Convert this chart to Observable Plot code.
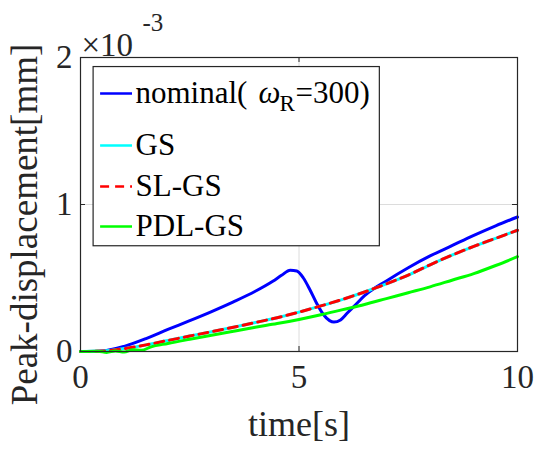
<!DOCTYPE html>
<html>
<head>
<meta charset="utf-8">
<script src="https://cdn.jsdelivr.net/npm/d3@7"></script>
<script src="https://cdn.jsdelivr.net/npm/@observablehq/plot@0.6"></script>
<style>
  html, body { margin: 0; padding: 0; background: white; }
</style>
</head>
<body>
<div id="chart"></div>
<script>
// values in units of 1e-3 mm
const tNominal = [0, 0.5, 1, 1.5, 2, 2.5, 3, 3.5, 4, 4.4, 4.6, 4.8, 4.95, 5.1, 5.25, 5.4, 5.55, 5.7, 5.8, 5.95, 6.1, 6.3, 6.5, 7, 7.5, 8, 8.5, 9, 9.5, 10];
const vNominal = [0, 0.004, 0.035, 0.088, 0.15, 0.21, 0.272, 0.338, 0.41, 0.478, 0.518, 0.553, 0.548, 0.5, 0.42, 0.33, 0.255, 0.21, 0.2, 0.215, 0.26, 0.32, 0.38, 0.48, 0.57, 0.65, 0.72, 0.79, 0.855, 0.915];

const tGS = [0, 0.5, 1, 1.5, 2, 2.5, 3, 3.5, 4, 4.5, 5, 5.5, 6, 6.5, 7, 7.5, 8, 8.5, 9, 9.5, 10];
const vGS = [0, 0.003, 0.02, 0.045, 0.075, 0.105, 0.135, 0.165, 0.197, 0.23, 0.268, 0.31, 0.355, 0.405, 0.46, 0.52, 0.59, 0.655, 0.715, 0.77, 0.825];
const vSLGS = [0, 0.003, 0.02, 0.045, 0.075, 0.105, 0.135, 0.165, 0.197, 0.23, 0.268, 0.31, 0.355, 0.405, 0.46, 0.52, 0.59, 0.655, 0.715, 0.77, 0.825];

const tPDL = [0, 0.4, 0.6, 0.8, 1.0, 1.2, 1.4, 1.6, 2, 2.5, 3, 3.5, 4, 4.5, 5, 5.5, 6, 6.5, 7, 7.5, 8, 8.5, 9, 9.5, 10];
const vPDL = [0, 0.002, -0.006, 0.004, -0.004, 0.012, 0.008, 0.03, 0.055, 0.083, 0.11, 0.138, 0.165, 0.19, 0.218, 0.25, 0.285, 0.32, 0.36, 0.4, 0.44, 0.485, 0.53, 0.585, 0.645];

const seriesNames = ["nominal", "GS", "SL-GS", "PDL-GS"];
const seriesColors = ["#0000ff", "#00ffff", "#ff0000", "#00ff00"];
const xTicks = [0, 5, 10];
const yTicks = [0, 1, 2];

const toRows = (ts, vs) => ts.map((t, i) => ({t, v: vs[i]}));
const dNominal = toRows(tNominal, vNominal);
const dGS = toRows(tGS, vGS);
const dSLGS = toRows(tGS, vSLGS);
const dPDL = toRows(tPDL, vPDL);

const axisColor = "#262626";
const font = "Liberation Serif";

// legend layout, in pixels relative to the top-left corner of the axes box
const legRowDy = [36, 88, 129, 169];
const legText = (txt, dx, dy, opts = {}) =>
  Plot.text([txt], {frameAnchor: "top-left", textAnchor: "start", lineAnchor: "middle",
    dx, dy, fontSize: 31, fontFamily: font, fill: "#000", ...opts});

const legendMarks = [
  Plot.rect([0], {x1: 0.3, x2: 6.85, y1: 1.935, y2: 0.716, fill: "white", stroke: axisColor, strokeWidth: 1.2}),
  ...seriesNames.map((name, i) =>
    Plot.ruleY([0], {frameAnchor: "top-left", x1: 0.46, x2: 1.19, y: 2, dy: legRowDy[i],
      stroke: seriesColors[i], strokeWidth: 2.5, strokeDasharray: name === "SL-GS" ? "9,6" : null})),
  legText("nominal(", 55, legRowDy[0]),
  legText("ω", 178, legRowDy[0], {fontStyle: "italic"}),
  legText("R", 199, legRowDy[0] + 10, {fontSize: 23}),
  legText("=300)", 215, legRowDy[0]),
  legText("GS", 55, legRowDy[1]),
  legText("SL-GS", 55, legRowDy[2]),
  legText("PDL-GS", 55, legRowDy[3])
];

const plot = Plot.plot({
  width: 534,
  height: 453,
  marginLeft: 80,
  marginRight: 17,
  marginTop: 57,
  marginBottom: 102,
  style: {fontFamily: font, fontSize: "32px", color: axisColor, background: "white", overflow: "visible"},
  x: {domain: [0, 10]},
  y: {domain: [0, 2]},
  marks: [
    Plot.gridX(xTicks, {stroke: "#dcdcdc", strokeOpacity: 1, strokeWidth: 1}),
    Plot.gridY(yTicks, {stroke: "#dcdcdc", strokeOpacity: 1, strokeWidth: 1}),
    Plot.line(dNominal, {x: "t", y: "v", stroke: seriesColors[0], strokeWidth: 3, curve: "monotone-x"}),
    Plot.line(dGS, {x: "t", y: "v", stroke: seriesColors[1], strokeWidth: 3, curve: "monotone-x"}),
    Plot.line(dSLGS, {x: "t", y: "v", stroke: seriesColors[2], strokeWidth: 3, strokeDasharray: "9,6", curve: "monotone-x"}),
    Plot.line(dPDL, {x: "t", y: "v", stroke: seriesColors[3], strokeWidth: 3, curve: "monotone-x"}),
    Plot.ruleX(xTicks, {y1: 0, y2: 0.034, stroke: axisColor}),
    Plot.ruleX(xTicks, {y1: 2 - 0.034, y2: 2, stroke: axisColor}),
    Plot.ruleY(yTicks, {x1: 0, x2: 0.115, stroke: axisColor}),
    Plot.ruleY(yTicks, {x1: 10 - 0.115, x2: 10, stroke: axisColor}),
    Plot.frame({stroke: axisColor, strokeWidth: 1.2}),
    Plot.axisX(xTicks, {tickSize: 0, tickPadding: 13, fontSize: 33, fontFamily: font, tickFormat: d => String(d), label: null}),
    Plot.axisY(yTicks, {tickSize: 0, tickPadding: 8, fontSize: 33, fontFamily: font, tickFormat: d => String(d), label: null}),
    Plot.text(["time[s]"], {frameAnchor: "bottom", dy: 84, fontSize: 36, fontFamily: font, fill: axisColor}),
    Plot.text(["Peak-displacement[mm]"], {frameAnchor: "left", textAnchor: "middle", dx: -55, dy: 20, rotate: -90, fontSize: 37, fontFamily: font, fill: axisColor}),
    Plot.text(["×10"], {frameAnchor: "top-left", textAnchor: "start", dx: 1, dy: -25, fontSize: 33, fontFamily: font, fill: axisColor}),
    Plot.text(["-3"], {frameAnchor: "top-left", textAnchor: "start", dx: 62, dy: -44, fontSize: 25, fontFamily: font, fill: axisColor}),
    ...legendMarks
  ]
});

document.getElementById("chart").appendChild(plot);
</script>
</body>
</html>
